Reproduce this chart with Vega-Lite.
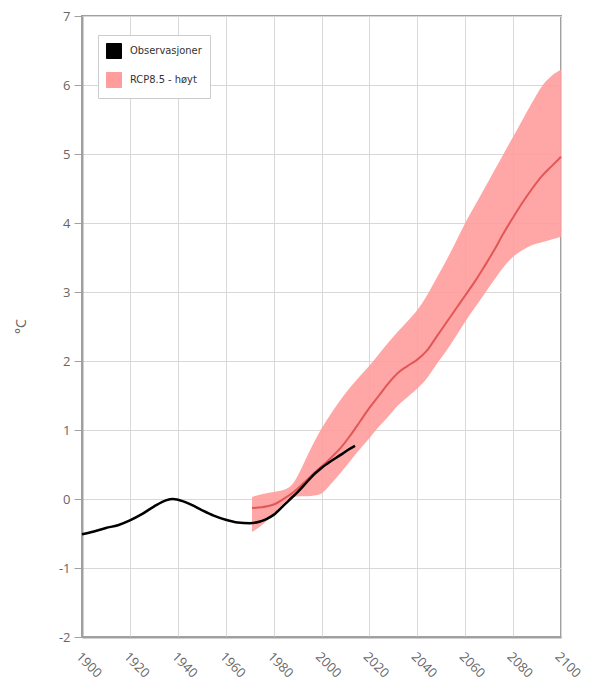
{
  "$schema": "https://vega.github.io/schema/vega-lite/v6.json",
  "width": 479,
  "height": 621,
  "autosize": {"type": "none"},
  "padding": {"left": 82, "top": 16, "right": 37, "bottom": 54},
  "background": "white",
  "config": {
    "view": {"stroke": "#a0a0a0", "strokeWidth": 2},
    "font": "Open Sans",
    "axis": {
      "gridColor": "#d8d8d8",
      "gridWidth": 1,
      "domainColor": "#a0a0a0",
      "domainWidth": 2,
      "labelColor": "#666666",
      "labelFontSize": 13,
      "labelFont": "Open Sans",
      "titleColor": "#666666",
      "titleFontWeight": "normal",
      "titleFont": "Open Sans",
      "tickColor": "#a0a0a0"
    }
  },
  "datasets": {
    "obs": [
      {"year": 1900, "value": -0.51, "series": "Observasjoner"},
      {"year": 1905, "value": -0.47, "series": "Observasjoner"},
      {"year": 1910, "value": -0.42, "series": "Observasjoner"},
      {"year": 1915, "value": -0.38, "series": "Observasjoner"},
      {"year": 1920, "value": -0.31, "series": "Observasjoner"},
      {"year": 1925, "value": -0.22, "series": "Observasjoner"},
      {"year": 1930, "value": -0.11, "series": "Observasjoner"},
      {"year": 1935, "value": -0.02, "series": "Observasjoner"},
      {"year": 1938, "value": 0.0, "series": "Observasjoner"},
      {"year": 1942, "value": -0.03, "series": "Observasjoner"},
      {"year": 1946, "value": -0.09, "series": "Observasjoner"},
      {"year": 1950, "value": -0.16, "series": "Observasjoner"},
      {"year": 1955, "value": -0.24, "series": "Observasjoner"},
      {"year": 1960, "value": -0.3, "series": "Observasjoner"},
      {"year": 1965, "value": -0.34, "series": "Observasjoner"},
      {"year": 1970, "value": -0.35, "series": "Observasjoner"},
      {"year": 1974, "value": -0.33, "series": "Observasjoner"},
      {"year": 1977, "value": -0.29, "series": "Observasjoner"},
      {"year": 1980, "value": -0.23, "series": "Observasjoner"},
      {"year": 1984, "value": -0.1, "series": "Observasjoner"},
      {"year": 1987, "value": 0.0, "series": "Observasjoner"},
      {"year": 1990, "value": 0.1, "series": "Observasjoner"},
      {"year": 1994, "value": 0.25, "series": "Observasjoner"},
      {"year": 1997, "value": 0.36, "series": "Observasjoner"},
      {"year": 2000, "value": 0.45, "series": "Observasjoner"},
      {"year": 2004, "value": 0.55, "series": "Observasjoner"},
      {"year": 2008, "value": 0.64, "series": "Observasjoner"},
      {"year": 2011, "value": 0.71, "series": "Observasjoner"},
      {"year": 2014, "value": 0.77, "series": "Observasjoner"}
    ],
    "rcp": [
      {"year": 1971, "mean": -0.13, "lo": -0.48, "hi": 0.03, "series": "RCP8.5 - høyt"},
      {"year": 1975, "mean": -0.12, "lo": -0.38, "hi": 0.07, "series": "RCP8.5 - høyt"},
      {"year": 1980, "mean": -0.08, "lo": -0.22, "hi": 0.1, "series": "RCP8.5 - høyt"},
      {"year": 1985, "mean": 0.02, "lo": -0.04, "hi": 0.14, "series": "RCP8.5 - høyt"},
      {"year": 1988, "mean": 0.09, "lo": 0.02, "hi": 0.22, "series": "RCP8.5 - høyt"},
      {"year": 1991, "mean": 0.18, "lo": 0.04, "hi": 0.4, "series": "RCP8.5 - høyt"},
      {"year": 1994, "mean": 0.28, "lo": 0.04, "hi": 0.62, "series": "RCP8.5 - høyt"},
      {"year": 1997, "mean": 0.38, "lo": 0.05, "hi": 0.83, "series": "RCP8.5 - høyt"},
      {"year": 2000, "mean": 0.47, "lo": 0.08, "hi": 1.02, "series": "RCP8.5 - høyt"},
      {"year": 2004, "mean": 0.6, "lo": 0.22, "hi": 1.24, "series": "RCP8.5 - høyt"},
      {"year": 2008, "mean": 0.74, "lo": 0.38, "hi": 1.44, "series": "RCP8.5 - høyt"},
      {"year": 2012, "mean": 0.92, "lo": 0.55, "hi": 1.62, "series": "RCP8.5 - høyt"},
      {"year": 2016, "mean": 1.12, "lo": 0.72, "hi": 1.78, "series": "RCP8.5 - høyt"},
      {"year": 2020, "mean": 1.32, "lo": 0.88, "hi": 1.93, "series": "RCP8.5 - høyt"},
      {"year": 2024, "mean": 1.5, "lo": 1.05, "hi": 2.1, "series": "RCP8.5 - høyt"},
      {"year": 2028, "mean": 1.68, "lo": 1.2, "hi": 2.27, "series": "RCP8.5 - høyt"},
      {"year": 2032, "mean": 1.83, "lo": 1.36, "hi": 2.43, "series": "RCP8.5 - høyt"},
      {"year": 2036, "mean": 1.93, "lo": 1.48, "hi": 2.58, "series": "RCP8.5 - høyt"},
      {"year": 2040, "mean": 2.02, "lo": 1.6, "hi": 2.74, "series": "RCP8.5 - høyt"},
      {"year": 2044, "mean": 2.15, "lo": 1.75, "hi": 2.95, "series": "RCP8.5 - høyt"},
      {"year": 2048, "mean": 2.35, "lo": 1.95, "hi": 3.2, "series": "RCP8.5 - høyt"},
      {"year": 2052, "mean": 2.55, "lo": 2.14, "hi": 3.45, "series": "RCP8.5 - høyt"},
      {"year": 2056, "mean": 2.75, "lo": 2.35, "hi": 3.72, "series": "RCP8.5 - høyt"},
      {"year": 2060, "mean": 2.95, "lo": 2.57, "hi": 4.0, "series": "RCP8.5 - høyt"},
      {"year": 2064, "mean": 3.15, "lo": 2.77, "hi": 4.25, "series": "RCP8.5 - høyt"},
      {"year": 2068, "mean": 3.37, "lo": 2.97, "hi": 4.5, "series": "RCP8.5 - høyt"},
      {"year": 2072, "mean": 3.6, "lo": 3.17, "hi": 4.75, "series": "RCP8.5 - høyt"},
      {"year": 2076, "mean": 3.85, "lo": 3.36, "hi": 5.0, "series": "RCP8.5 - høyt"},
      {"year": 2080, "mean": 4.08, "lo": 3.51, "hi": 5.25, "series": "RCP8.5 - høyt"},
      {"year": 2084, "mean": 4.3, "lo": 3.61, "hi": 5.5, "series": "RCP8.5 - høyt"},
      {"year": 2088, "mean": 4.5, "lo": 3.68, "hi": 5.75, "series": "RCP8.5 - høyt"},
      {"year": 2092, "mean": 4.68, "lo": 3.72, "hi": 5.98, "series": "RCP8.5 - høyt"},
      {"year": 2096, "mean": 4.82, "lo": 3.76, "hi": 6.13, "series": "RCP8.5 - høyt"},
      {"year": 2100, "mean": 4.96, "lo": 3.8, "hi": 6.22, "series": "RCP8.5 - høyt"}
    ]
  },
  "encoding": {
    "x": {
      "field": "year",
      "type": "quantitative",
      "scale": {"domain": [1900, 2100], "nice": false},
      "axis": {
        "title": null,
        "values": [1900, 1920, 1940, 1960, 1980, 2000, 2020, 2040, 2060, 2080, 2100],
        "format": "d",
        "labelAngle": 45,
        "labelAlign": "left",
        "labelBaseline": "top",
        "ticks": false,
        "labelPadding": 13,
        "labelFlush": false
      }
    }
  },
  "layer": [
    {
      "data": {"name": "rcp"},
      "mark": {"type": "area", "interpolate": "monotone", "fillOpacity": 0.9},
      "encoding": {
        "y": {
          "field": "lo",
          "type": "quantitative",
          "scale": {"domain": [-2, 7], "nice": false},
          "axis": {
            "title": "°C",
            "titleFontSize": 14,
            "titleAngle": -90,
            "titleX": -54,
            "titleY": 310,
            "values": [-2, -1, 0, 1, 2, 3, 4, 5, 6, 7],
            "labelExpr": "toString(datum.value)",
            "tickSize": 8,
            "labelPadding": 4
          }
        },
        "y2": {"field": "hi"},
        "color": {
          "field": "series",
          "type": "nominal",
          "scale": {"domain": ["Observasjoner", "RCP8.5 - høyt"], "range": ["#000000", "#ff9c9c"]},
          "legend": {
            "title": null,
            "orient": "none",
            "legendX": 16,
            "legendY": 19,
            "padding": 8,
            "strokeColor": "#cccccc",
            "fillColor": "white",
            "symbolType": "square",
            "symbolSize": 225,
            "rowPadding": 9,
            "labelOffset": 8,
            "labelFontSize": 11,
            "labelFont": "DejaVu Sans Condensed, Liberation Sans Narrow, DejaVu Sans",
            "labelColor": "#333333",
            "encode": {
              "symbols": {
                "update": {
                  "fill": {"signal": "datum.value == 'Observasjoner' ? '#000000' : '#f25858'"},
                  "stroke": {"value": "#bbbbbb"},
                  "strokeWidth": {"value": 1},
                  "opacity": {"value": 1},
                  "fillOpacity": {"value": 1}
                }
              }
            }
          }
        }
      }
    },
    {
      "data": {"name": "rcp"},
      "mark": {"type": "line", "interpolate": "monotone", "color": "#e25656", "strokeWidth": 2},
      "encoding": {"y": {"field": "mean", "type": "quantitative"}}
    },
    {
      "data": {"name": "obs"},
      "mark": {"type": "line", "interpolate": "monotone", "strokeWidth": 2.5},
      "encoding": {
        "y": {"field": "value", "type": "quantitative"},
        "color": {"field": "series", "type": "nominal"}
      }
    }
  ]
}
